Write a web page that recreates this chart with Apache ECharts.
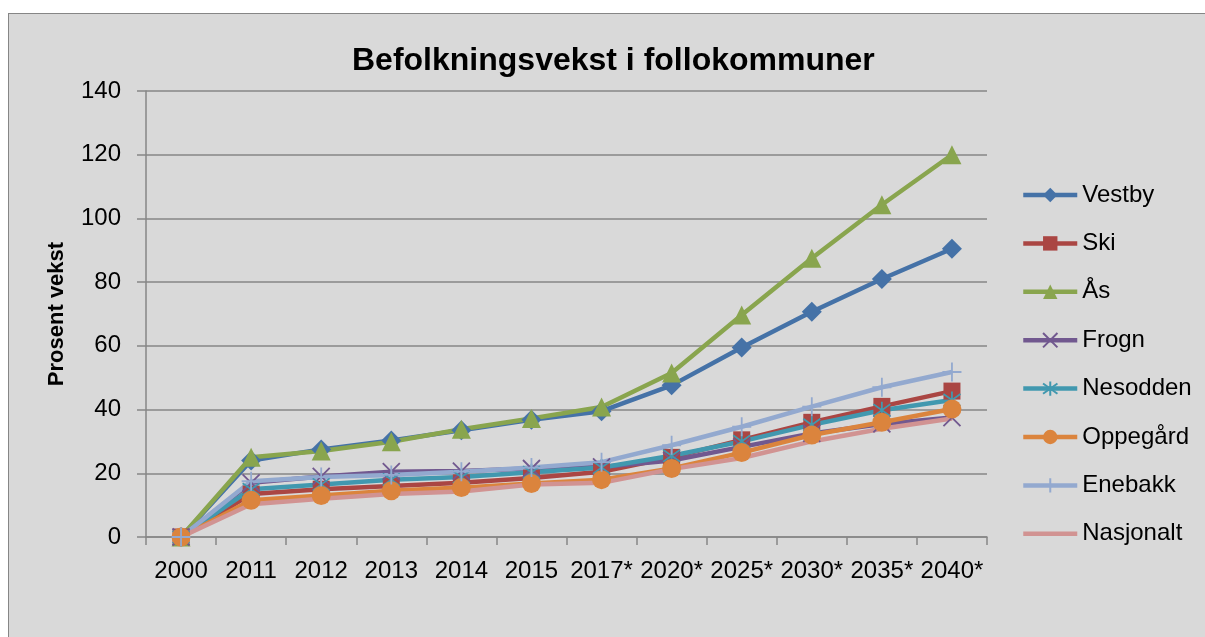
<!DOCTYPE html>
<html>
<head>
<meta charset="utf-8">
<script src="https://cdn.jsdelivr.net/npm/echarts@6/dist/echarts.min.js"></script>
<style>
    html, body { margin: 0; padding: 0; background: #ffffff; overflow: hidden; }
    .frame { position: absolute; left: 8px; top: 13px; width: 1220px; height: 650px; background: #d9d9d9; border: 1.5px solid #868686; }
    #chart { position: absolute; left: 0; top: 0; width: 1205px; height: 637px; }
</style>
</head>
<body>
<div class="frame"></div>
<div id="chart"></div>
<script>
const years = ['2000', '2011', '2012', '2013', '2014', '2015', '2017*', '2020*', '2025*', '2030*', '2035*', '2040*'];
const yTicks = [0, 20, 40, 60, 80, 100, 120, 140];

const vestby = [0, 24, 27.5, 30.3, 33.5, 36.8, 39.5, 47.6, 59.5, 70.7, 81, 90.5];
const ski = [0, 13.5, 15, 16, 17, 18.5, 20.5, 25, 30.5, 36, 41, 45.8];
const aas = [0, 25, 27, 29.9, 33.8, 37.2, 40.8, 51.5, 69.7, 87.5, 104.3, 120];
const frogn = [0, 17, 19, 20.5, 20.7, 21.5, 22, 24, 28.3, 32.5, 35.5, 37.5];
const nesodden = [0, 15, 16.5, 18, 18.8, 20.3, 21.8, 25.5, 30, 35.2, 39.8, 43];
const oppegard = [0, 11.5, 13, 14.5, 15.5, 16.8, 18, 21.5, 26.5, 32, 36, 40.2];
const enebakk = [0, 17.5, 18.8, 19.5, 20.5, 21.8, 23.5, 28.8, 34.6, 40.9, 47, 51.8];
const nasjonalt = [0, 10.3, 12, 13.5, 14.3, 16.5, 17, 21.3, 24.8, 30, 34, 37.2];

const font = '"Liberation Sans", Arial, sans-serif';
const gridGrey = '#868686';

// line helper: same style for every kommune, only colour and marker differ
function line(name, data, color, symbol, size, thin) {
    return {
        name: name,
        type: 'line',
        data: data,
        symbol: symbol,
        symbolSize: size,
        showSymbol: symbol !== 'none',
        lineStyle: { color: color, width: 4.5 },
        itemStyle: thin
            ? { color: color, borderColor: color, borderWidth: 1.8 }
            : { color: color },
        emphasis: { disabled: true }
    };
}

const myChart = echarts.init(document.getElementById('chart'), null, { renderer: 'canvas' });
const option = {
    animation: false,
    backgroundColor: 'transparent',
    title: {
        text: 'Befolkningsvekst i follokommuner',
        left: 352,
        top: 45,
        padding: 0,
        textStyle: { fontFamily: font, fontSize: 32, fontWeight: 'bold', color: '#000' }
    },
    legend: {
        orient: 'vertical',
        left: 1021,
        top: 183,
        padding: 0,
        itemWidth: 54,
        itemHeight: 18,
        itemGap: 24.4,
        lineStyle: { width: 4.5 },
        textStyle: { fontFamily: font, fontSize: 24, lineHeight: 24, color: '#000' },
        data: ['Vestby', 'Ski', 'Ås', 'Frogn', 'Nesodden', 'Oppegård', 'Enebakk',
            { name: 'Nasjonalt', itemStyle: { opacity: 0 } }]
    },
    grid: { left: 146, right: 218, top: 91, bottom: 100 },
    xAxis: {
        type: 'category',
        data: years,
        boundaryGap: true,
        axisLine: { lineStyle: { color: gridGrey, width: 1.5 } },
        axisTick: { show: true, length: 8, lineStyle: { color: gridGrey, width: 1.5 } },
        axisLabel: { interval: 0, margin: 22, color: '#000', fontFamily: font, fontSize: 24 }
    },
    yAxis: {
        type: 'value',
        min: yTicks[0],
        max: yTicks[yTicks.length - 1],
        interval: 20,
        name: 'Prosent vekst',
        nameLocation: 'middle',
        nameGap: 78,
        nameTextStyle: { fontFamily: font, fontSize: 22, fontWeight: 'bold', color: '#000' },
        axisLine: { show: true, lineStyle: { color: gridGrey, width: 1.5 } },
        axisTick: { show: true, length: 9, lineStyle: { color: gridGrey, width: 1.5 } },
        axisLabel: { margin: 25, color: '#000', fontFamily: font, fontSize: 24 },
        splitLine: { lineStyle: { color: gridGrey, width: 1.5 } }
    },
    series: [
        line('Vestby', vestby, '#4572A7', 'diamond', 20),
        line('Ski', ski, '#AA4643', 'rect', 17),
        line('Ås', aas, '#89A54E', 'triangle', 19),
        line('Frogn', frogn, '#71588F', 'path://M0,0L10,10M0,10L10,0', 17, true),
        line('Nesodden', nesodden, '#4198AF', 'path://M0,0L10,10M0,10L10,0M5,-2L5,12', 17, true),
        line('Oppegård', oppegard, '#DB843D', 'circle', 19),
        line('Enebakk', enebakk, '#93A9CF', 'path://M5,0L5,10M0,5L10,5', 19, true),
        line('Nasjonalt', nasjonalt, '#D19392', 'none', 0)
    ]
};
myChart.setOption(option);
</script>
</body>
</html>
